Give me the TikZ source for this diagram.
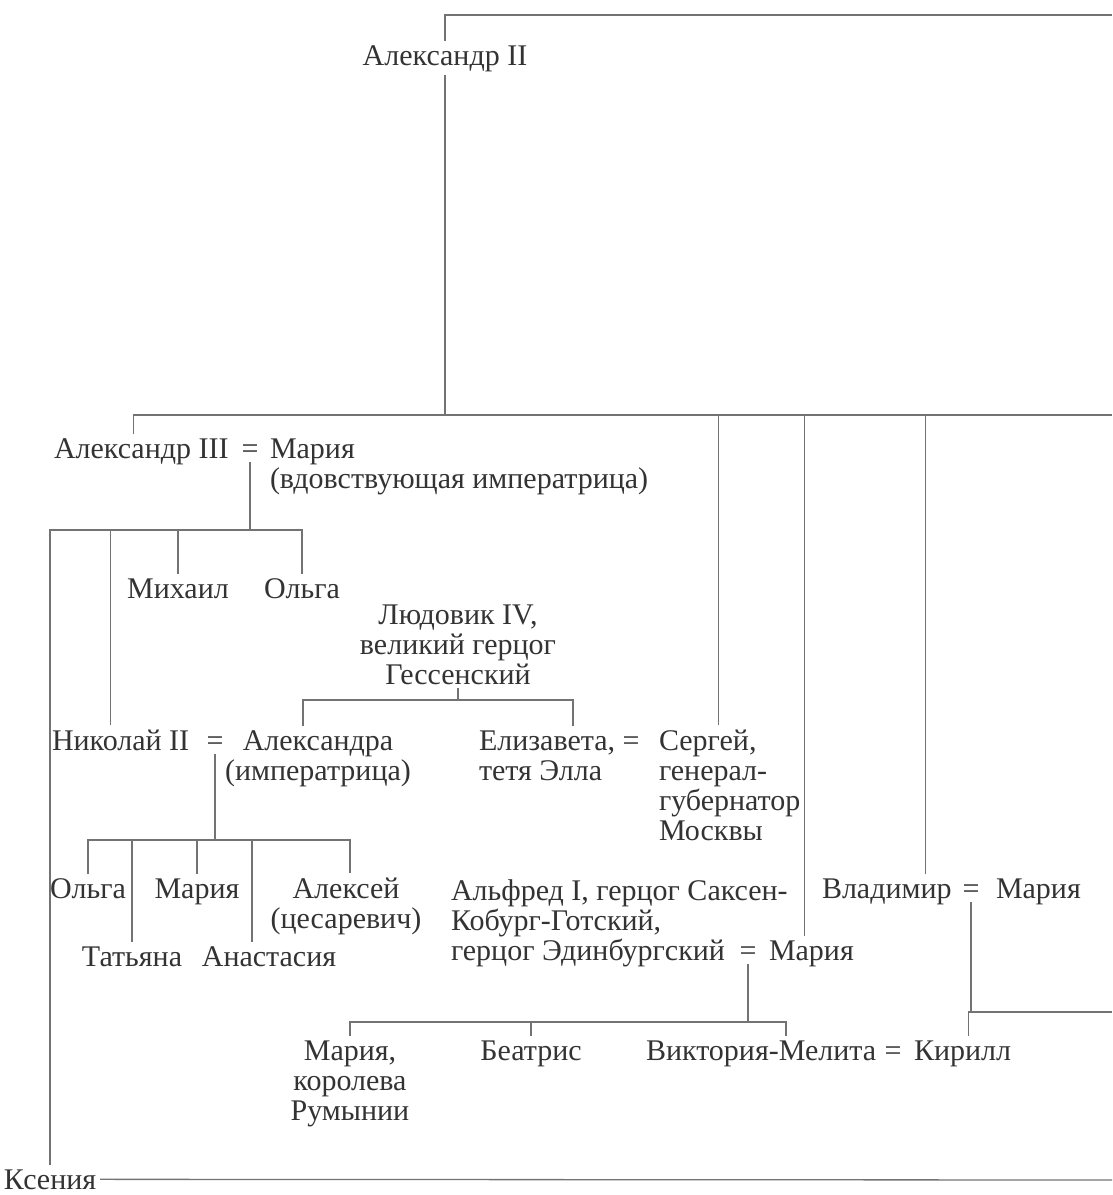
\documentclass[tikz,border=0pt]{standalone}
\usepackage{fontspec}
\setmainfont{Liberation Serif}

\begin{document}
\begin{tikzpicture}[x=1pt, y=-1pt, color=black!55, line width=1.3pt,
    every node/.style={inner sep=0, outer sep=4pt, text=black!80,
      font=\fontsize{30}{30}\selectfont}]
  \useasboundingbox (0,0) rectangle (1112,1195);

  % Александр II
  \coordinate (top) at (445,15);
  \coordinate (topr) at (1112,15);
  \coordinate (g1) at (445,415);
  \coordinate (g1r) at (1112,415);
  \node [anchor=base] (a2) at (445,65) {Александр II};
  \draw (a2.north) -- (top) -- (topr);
  \draw (a2.south) -- (g1) -- (g1r);

  % Александр III = Мария
  \node [anchor=base west] (a3) at (50,458) {Александр III};
  \node [anchor=base] (e1) at (250,458) {=};
  \node [anchor=base west, align=left] (m1) at (266,488) {Мария\\(вдовствующая императрица)};
  \draw ([xshift=-8]a3.north) |- (g1);

  \coordinate (g2) at (250,530);
  \draw (e1.south) -- (g2);
  \node [anchor=base west] (ks) at (0,1189) {Ксения};
  \coordinate (ksr) at (1112,1180);
  \draw (ks.north) |- (g2);
  \draw (ks.east) -- (ksr);
  \node [anchor=base] (mih) at (178,598) {Михаил};
  \node [anchor=base] (o1) at (302,598) {Ольга};
  \draw (mih.north) |- (g2);
  \draw (o1.north) |- (g2);

  % Людовик IV
  \node [anchor=base, align=center] (lud) at (458,684) {Людовик IV,\\великий герцог\\Гессенский};
  \coordinate (g3) at (458,700);
  \draw (lud.south) -- (g3);

  % Николай II = Александра
  \node [anchor=base west] (n2) at (48,750) {Николай II};
  \node [anchor=base] (e2) at (215,750) {=};
  \node [anchor=base, align=center] (alx) at (318,780) {Александра\\(императрица)};
  \draw ([xshift=-10]n2.north) |- (g2);
  \draw ([xshift=-15]alx.north) |- (g3);

  % Елизавета = Сергей
  \node [anchor=base west, align=left] (eli) at (475,780) {Елизавета,\\тетя Элла};
  \node [anchor=base] (e3) at (631,750) {=};
  \node [anchor=base west, align=left] (ser) at (655,840) {Сергей,\\генерал-\\губернатор\\Москвы};
  \draw ([xshift=26]eli.north) |- (g3);
  \draw ([xshift=-11]ser.north) |- (g1);

  % дети Николая II
  \coordinate (g4) at (215,840);
  \draw (e2.south) -- (g4);
  \node [anchor=base] (o2) at (88,898) {Ольга};
  \node [anchor=base] (mr1) at (197,898) {Мария};
  \node [anchor=base, align=center] (alk) at (346,928) {Алексей\\(цесаревич)};
  \node [anchor=base] (tat) at (132,966) {Татьяна};
  \node [anchor=base] (ana) at (269,966) {Анастасия};
  \draw (o2.north) |- (g4);
  \draw (tat.north) |- (g4);
  \draw (mr1.north) |- (g4);
  \draw ([xshift=-17]ana.north) |- (g4);
  \draw ([xshift=4]alk.north) |- (g4);

  % Альфред I = Мария
  \node [anchor=base west, align=left] (alf) at (447,960) {Альфред I, герцог Саксен-\\Кобург-Готский,\\герцог Эдинбургский};
  \node [anchor=base] (e4) at (748,960) {=};
  \node [anchor=base west] (mr2) at (765,960) {Мария};
  \draw ([xshift=-7]mr2.north) |- (g1);

  % Владимир = Мария
  \node [anchor=base west] (vla) at (818,898) {Владимир};
  \node [anchor=base] (e5) at (971,898) {=};
  \node [anchor=base west] (mr3) at (992,898) {Мария};
  \draw ([xshift=39]vla.north) |- (g1);
  \coordinate (g6) at (971,1012);
  \coordinate (g6r) at (1112,1012);
  \draw (e5.south) -- (g6) -- (g6r);

  % дети Альфреда I
  \coordinate (g5) at (748,1022);
  \draw (e4.south) -- (g5);
  \node [anchor=base, align=center] (mrr) at (350,1120) {Мария,\\королева\\Румынии};
  \node [anchor=base] (bea) at (531,1060) {Беатрис};
  \node [anchor=base west] (vik) at (642,1060) {Виктория-Мелита};
  \node [anchor=base] (e6) at (893,1060) {=};
  \node [anchor=base west] (kir) at (910,1060) {Кирилл};
  \draw (mrr.north) |- (g5);
  \draw (bea.north) |- (g5);
  \draw ([xshift=25]vik.north) |- (g5);
  \draw ([xshift=6]kir.north) |- (g6);
\end{tikzpicture}
\end{document}
